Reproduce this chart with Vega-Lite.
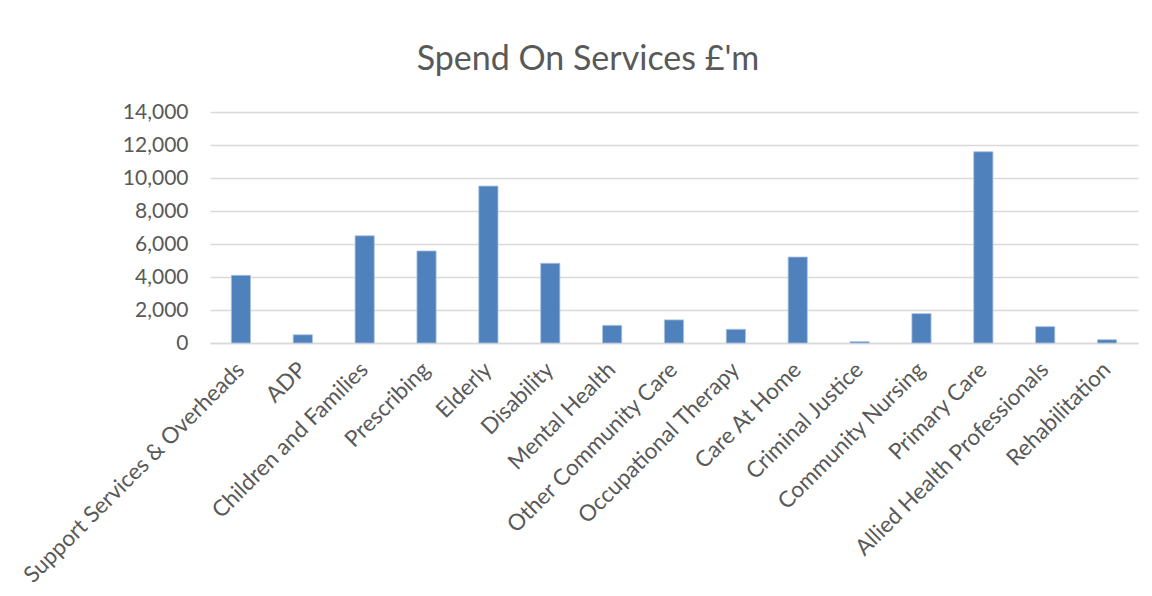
{
  "$schema": "https://vega.github.io/schema/vega-lite/v6.json",
  "autosize": "none",
  "width": 928,
  "height": 231,
  "padding": {"left": 210, "top": 112, "right": 14, "bottom": 253},
  "background": "#ffffff",
  "title": {
    "text": "Spend On Services £'m",
    "font": "Lato",
    "fontSize": 34,
    "fontWeight": "normal",
    "color": "#595959",
    "anchor": "middle",
    "dx": -86,
    "offset": 24
  },
  "data": {
    "values": [
      {"service": "Support Services & Overheads", "spend": 4100},
      {"service": "ADP", "spend": 500},
      {"service": "Children and Families", "spend": 6500},
      {"service": "Prescribing", "spend": 5580},
      {"service": "Elderly", "spend": 9510},
      {"service": "Disability", "spend": 4830},
      {"service": "Mental Health", "spend": 1070},
      {"service": "Other Community Care", "spend": 1400},
      {"service": "Occupational Therapy", "spend": 830},
      {"service": "Care At Home", "spend": 5210},
      {"service": "Criminal Justice", "spend": 80},
      {"service": "Community Nursing", "spend": 1780},
      {"service": "Primary Care", "spend": 11590},
      {"service": "Allied Health Professionals", "spend": 990},
      {"service": "Rehabilitation", "spend": 200}
    ]
  },
  "mark": {"type": "bar", "color": "#4f81bd", "stroke": "#a9c1e0", "strokeWidth": 0.8},
  "encoding": {
    "x": {
      "field": "service",
      "type": "nominal",
      "sort": null,
      "scale": {"paddingInner": 0.69, "paddingOuter": 0.345},
      "axis": {
        "title": null,
        "labelAngle": -45,
        "labelFont": "Lato",
        "labelFontSize": 22.5,
        "labelColor": "#595959",
        "labelPadding": 15,
        "labelOffset": -8,
        "labelLimit": 400,
        "ticks": false,
        "domainColor": "#d9d9d9",
        "domainWidth": 1.5,
        "grid": false
      }
    },
    "y": {
      "field": "spend",
      "type": "quantitative",
      "scale": {"domain": [0, 14000]},
      "axis": {
        "title": null,
        "values": [0, 2000, 4000, 6000, 8000, 10000, 12000, 14000],
        "format": ",.0f",
        "labelFont": "Lato",
        "labelFontSize": 21,
        "labelColor": "#595959",
        "labelPadding": 22,
        "ticks": false,
        "domain": false,
        "gridColor": "#d9d9d9",
        "gridWidth": 1.5
      }
    }
  },
  "config": {"view": {"stroke": null}}
}
